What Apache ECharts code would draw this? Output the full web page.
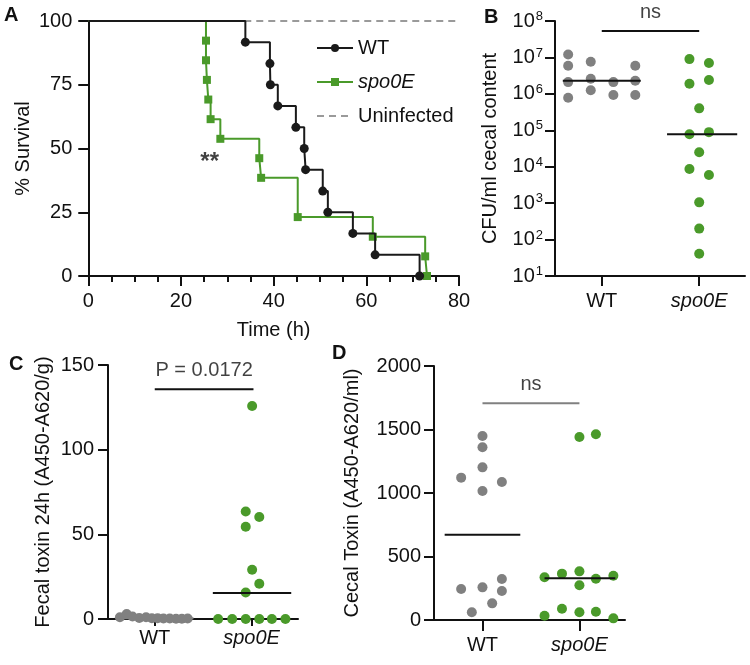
<!DOCTYPE html>
<html>
<head>
<meta charset="utf-8">
<script src="https://cdn.jsdelivr.net/npm/echarts@6/dist/echarts.min.js"></script>
<style>html,body{margin:0;padding:0;background:#fff;}#c{width:750px;height:665px;}</style>
</head>
<body>
<div id="c"></div>
<script>
// ---------- Panel A: survival ----------
const wtTime = [0, 33.9, 39.2, 39.3, 40.9, 44.8, 46.6, 46.9, 50.6, 51.7, 57.1, 61.9, 71.5];
const wtSurv = [100, 91.7, 83.3, 75.0, 66.7, 58.3, 50.0, 41.7, 33.3, 25.0, 16.7, 8.3, 0];
const spoTime = [0, 25.4, 25.4, 25.6, 25.9, 26.4, 28.5, 36.9, 37.3, 45.2, 61.4, 72.7, 73.1];
const spoSurv = [100, 92.3, 84.6, 76.9, 69.2, 61.5, 53.8, 46.2, 38.5, 23.1, 15.4, 7.7, 0];
const uninfTime = [0, 80];
const uninfSurv = [100, 100];
const xTicksA = [0, 20, 40, 60, 80];
const yTicksA = [0, 25, 50, 75, 100];

// ---------- Panel B: CFU (log) ----------
const bWtX = [0.655, 0.655, 0.655, 0.655, 0.887, 0.887, 0.887, 1.119, 1.119, 1.344, 1.344, 1.344];
const bWtY = [1.2e7, 5.9e6, 2.1e6, 7.8e5, 7.6e6, 2.6e6, 1.26e6, 2.1e6, 9.3e5, 5.9e6, 2.3e6, 9.3e5];
const bSpoX = [1.90, 2.10, 1.90, 2.10, 2.0, 1.90, 2.10, 2.0, 1.90, 2.10, 2.0, 2.0, 2.0];
const bSpoY = [9e6, 7e6, 1.9e6, 2.4e6, 4e5, 7.8e4, 8.9e4, 2.5e4, 8.7e3, 5.9e3, 1.05e3, 2e2, 41];
const bMedian = [2.3e6, 7.8e4];
const bSig = 5.3e7;

// ---------- Panel C: fecal toxin ----------
const cWtX = [0.64, 0.71, 0.77, 0.84, 0.91, 0.97, 1.03, 1.09, 1.155, 1.22, 1.28, 1.34];
const cWtY = [1.0, 3.0, 1.5, 0.6, 1.0, 0.4, 0.5, 0.3, 0.3, 0.2, 0.2, 0.3];
const cSpoX = [2.006, 1.94, 2.08, 1.94, 2.006, 2.08, 1.94, 1.655, 1.80, 1.94, 2.08, 2.21, 2.35];
const cSpoY = [125.8, 63.5, 60.2, 54.5, 29.1, 20.8, 15.7, 0, 0, 0, 0, 0, 0];
const cMedian = [0.4, 15.3];
const cSig = 135.7;

// ---------- Panel D: cecal toxin ----------
const dWtX = [1.0, 1.0, 1.0, 0.78, 1.20, 1.0, 1.20, 0.78, 1.0, 1.20, 1.10, 0.89];
const dWtY = [1449, 1360, 1202, 1121, 1087, 1016, 323, 244, 257, 228, 131, 61];
const dSpoX = [2.0, 2.17, 1.64, 1.82, 2.0, 2.17, 2.35, 2.0, 1.64, 1.82, 2.0, 2.17, 2.35];
const dSpoY = [1441, 1462, 336, 365, 383, 325, 349, 273, 34, 89, 61, 65, 13];
const dMean = [672, 328];
const dSig = 1706;

const groupNames = ['WT', 'spo0E'];

const FONT = '"Liberation Sans", Arial, sans-serif';
const GREEN = '#4a9a2a';
const GRAY = '#808080';
const BLACK = '#111';
const FS = 20;

function pts(xs, ys) { return xs.map((x, i) => [x, ys[i]]); }

const axisLineStyle = { lineStyle: { color: BLACK, width: 2 } };
const tickStyle = (len) => ({ show: true, length: len, lineStyle: { color: BLACK, width: 2 } });
const labelStyle = (m) => ({ color: BLACK, fontSize: FS, fontFamily: FONT, margin: m });
const nameStyle = { color: BLACK, fontSize: FS, fontFamily: FONT };

function catXAxis(gi, min, max, margin, tickLen) {
  return {
    gridIndex: gi, type: 'value', min: min, max: max,
    axisLine: axisLineStyle,
    axisTick: Object.assign(tickStyle(tickLen), { customValues: [1, 2] }),
    axisLabel: Object.assign(labelStyle(margin), {
      customValues: [1, 2],
      formatter: v => v === 1 ? groupNames[0] : '{i|' + groupNames[1] + '}',
      rich: { i: { fontStyle: 'italic', fontSize: FS, fontFamily: FONT, color: BLACK } }
    }),
    splitLine: { show: false }
  };
}

function scatter(xi, data, color, size) {
  return { type: 'scatter', xAxisIndex: xi, yAxisIndex: xi, data: data, symbolSize: size,
    itemStyle: { color: color, opacity: 1 }, z: 3, silent: true };
}
function hline(xi, x0, x1, y, color) {
  return { type: 'line', xAxisIndex: xi, yAxisIndex: xi, data: [[x0, y], [x1, y]], symbol: 'none',
    lineStyle: { color: color, width: 2 }, z: 4, silent: true, animation: false };
}
function textPoint(xi, x, y, text, pos, dist, extra) {
  return { type: 'scatter', xAxisIndex: xi, yAxisIndex: xi, data: [[x, y]], symbolSize: 1,
    itemStyle: { color: 'rgba(0,0,0,0)' }, silent: true,
    label: Object.assign({ show: true, formatter: text, position: pos, distance: dist,
      color: BLACK, fontSize: FS, fontFamily: FONT }, extra || {}) };
}

function stepData(ts, ss) {
  return ts.map((t, i) => i === 0 ? { value: [t, ss[i]], symbol: 'none' } : [t, ss[i]]);
}

const chart = echarts.init(document.getElementById('c'), null, { renderer: 'canvas' });

const option = {
  animation: false,
  backgroundColor: '#fff',
  textStyle: { fontFamily: FONT },
  grid: [
    { left: 77, top: 21, width: 382, height: 255 },
    { left: 555, top: 21, width: 190, height: 255 },
    { left: 108, top: 365, width: 190, height: 254 },
    { left: 434, top: 366, width: 191, height: 254 }
  ],
  legend: {
    orient: 'vertical', left: 311, top: 33, itemWidth: 36, itemHeight: 10, itemGap: 14,
    data: ['WT', 'spo0E', { name: 'Uninfected', itemStyle: { opacity: 0 } }],
    textStyle: { color: BLACK, fontSize: FS, fontFamily: FONT,
      rich: { i: { fontStyle: 'italic', fontSize: FS, fontFamily: FONT, color: BLACK } } },
    formatter: n => n === 'spo0E' ? '{i|spo0E}' : n
  },
  xAxis: [
    { gridIndex: 0, type: 'value', min: xTicksA[0], max: xTicksA[xTicksA.length - 1], interval: 20,
      name: 'Time (h)', nameLocation: 'middle', nameGap: 44, nameTextStyle: nameStyle,
      axisLine: axisLineStyle, axisTick: tickStyle(10),
      minorTick: { show: true, splitNumber: 4, length: 6, lineStyle: { color: BLACK, width: 2 } },
      axisLabel: labelStyle(15), splitLine: { show: false } },
    catXAxis(1, 0.52, 2.47, 15, 10),
    catXAxis(2, 0.517, 2.48, 9, 7),
    catXAxis(3, 0.5, 2.47, 15, 11)
  ],
  yAxis: [
    { gridIndex: 0, type: 'value', min: yTicksA[0], max: yTicksA[yTicksA.length - 1], interval: 25,
      name: '% Survival', nameLocation: 'middle', nameGap: 55, nameTextStyle: nameStyle,
      axisLine: axisLineStyle, axisTick: tickStyle(10), axisLabel: labelStyle(16), splitLine: { show: false } },
    { gridIndex: 1, type: 'log', logBase: 10, min: 10, max: 1e8,
      name: 'CFU/ml cecal content', nameLocation: 'middle', nameGap: 55, nameTextStyle: nameStyle,
      axisLine: axisLineStyle, axisTick: tickStyle(10),
      axisLabel: Object.assign(labelStyle(12), {
        formatter: v => '{b|10}{s|' + Math.round(Math.log10(v)) + '}',
        rich: { b: { fontSize: FS, fontFamily: FONT, color: BLACK, lineHeight: 22 },
                s: { fontSize: 13, fontFamily: FONT, color: BLACK, verticalAlign: 'top', lineHeight: 22, padding: [0, 0, 0, 1] } }
      }),
      splitLine: { show: false } },
    { gridIndex: 2, type: 'value', min: 0, max: 150, interval: 50,
      name: 'Fecal toxin 24h (A450-A620/g)', nameLocation: 'middle', nameGap: 55, nameTextStyle: nameStyle,
      axisLine: axisLineStyle, axisTick: tickStyle(10), axisLabel: labelStyle(14), splitLine: { show: false } },
    { gridIndex: 3, type: 'value', min: 0, max: 2000, interval: 500,
      name: 'Cecal Toxin (A450-A620/ml)', nameLocation: 'middle', nameGap: 72, nameTextStyle: nameStyle,
      axisLine: axisLineStyle, axisTick: tickStyle(10),
      axisLabel: Object.assign(labelStyle(13), { formatter: v => String(v) }), splitLine: { show: false } }
  ],
  series: [
    // Panel A
    { name: 'Uninfected', type: 'line', xAxisIndex: 0, yAxisIndex: 0, data: pts(uninfTime, uninfSurv),
      symbol: 'none', lineStyle: { color: '#9a9a9a', width: 2, type: [7, 5] }, itemStyle: { color: '#9a9a9a' }, z: 1 },
    { name: 'spo0E', type: 'line', xAxisIndex: 0, yAxisIndex: 0, step: 'end', data: stepData(spoTime, spoSurv),
      symbol: 'rect', symbolSize: 8, showAllSymbol: true,
      lineStyle: { color: GREEN, width: 2 }, itemStyle: { color: GREEN }, z: 2 },
    { name: 'WT', type: 'line', xAxisIndex: 0, yAxisIndex: 0, step: 'end', data: stepData(wtTime, wtSurv),
      symbol: 'circle', symbolSize: 9, showAllSymbol: true,
      lineStyle: { color: '#1a1a1a', width: 2 }, itemStyle: { color: '#1a1a1a' }, z: 3 },
    textPoint(0, 26.2, 44.5, '**', 'inside', 0, { fontSize: 24, fontWeight: 'bold' }),

    // Panel B
    scatter(1, pts(bWtX, bWtY), GRAY, 10),
    scatter(1, pts(bSpoX, bSpoY), GREEN, 10),
    hline(1, 0.60, 1.40, bMedian[0], BLACK),
    hline(1, 1.67, 2.39, bMedian[1], BLACK),
    hline(1, 1, 2, bSig, BLACK),
    textPoint(1, 1.5, bSig, 'ns', 'top', 8),

    // Panel C
    scatter(2, pts(cWtX, cWtY), GRAY, 10),
    scatter(2, pts(cSpoX, cSpoY), GREEN, 10),
    hline(2, 0.60, 1.40, cMedian[0], GRAY),
    hline(2, 1.60, 2.41, cMedian[1], BLACK),
    hline(2, 1, 2.02, cSig, BLACK),
    textPoint(2, 1.51, cSig, 'P = 0.0172', 'top', 8),

    // Panel D
    scatter(3, pts(dWtX, dWtY), GRAY, 10),
    scatter(3, pts(dSpoX, dSpoY), GREEN, 10),
    hline(3, 0.61, 1.39, dMean[0], BLACK),
    hline(3, 1.64, 2.37, dMean[1], BLACK),
    hline(3, 1, 2, dSig, GRAY),
    textPoint(3, 1.5, dSig, 'ns', 'top', 8)
  ],
  graphic: [
    { type: 'text', left: 4, top: 5, style: { text: 'A', fontSize: 20, fontWeight: 'bold', fontFamily: FONT, fill: BLACK } },
    { type: 'text', left: 484, top: 7, style: { text: 'B', fontSize: 20, fontWeight: 'bold', fontFamily: FONT, fill: BLACK } },
    { type: 'text', left: 9, top: 354, style: { text: 'C', fontSize: 20, fontWeight: 'bold', fontFamily: FONT, fill: BLACK } },
    { type: 'text', left: 332, top: 343, style: { text: 'D', fontSize: 20, fontWeight: 'bold', fontFamily: FONT, fill: BLACK } }
  ]
};
chart.setOption(option);
</script>
</body>
</html>
